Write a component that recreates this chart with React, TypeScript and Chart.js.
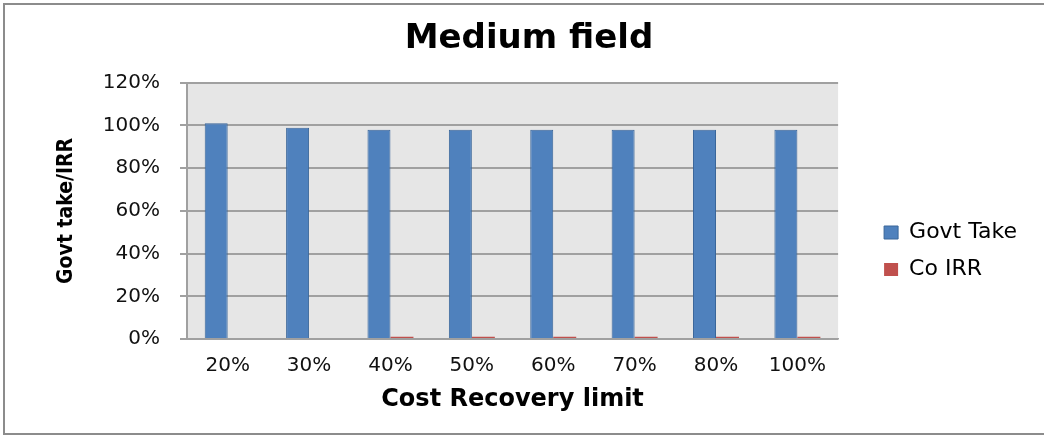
import React, { useEffect, useRef } from "react";
import { Chart, registerables } from "chart.js";

Chart.register(...registerables);

const categories = ["20%", "30%", "40%", "50%", "60%", "70%", "80%", "100%"];
const govtTake = [101, 99, 98, 98, 98, 98, 98, 98];
const coIRR = [0, 0, 1, 1, 1, 1, 1, 1];
const yTicks = [0, 20, 40, 60, 80, 100, 120];

const WIDE = "'DejaVu Sans', 'Open Sans', sans-serif";
const NARROW = "'DejaVu Sans Condensed', 'Liberation Sans Narrow', 'DejaVu Sans', sans-serif";

const bgPlugin = {
  id: "bgPlugin",
  beforeDraw(chart: any) {
    const { ctx, chartArea } = chart;
    ctx.save();
    ctx.fillStyle = "#ffffff";
    ctx.fillRect(0, 0, chart.width, chart.height);
    ctx.fillStyle = "#e6e6e6";
    ctx.fillRect(chartArea.left, chartArea.top, chartArea.right - chartArea.left, chartArea.bottom - chartArea.top);
    ctx.restore();
  },
  afterLayout(chart: any) {
    const lg = chart.legend;
    if (lg) {
      const dx = chart.chartArea.right + 31 - lg.left;
      lg.left += dx;
      lg.right += dx;
      lg.top += 44;
      lg.bottom += 44;
    }
    const tb = chart.titleBlock;
    if (tb) {
      tb.left += 4;
      tb.right += 4;
    }
  },
  afterDraw(chart: any) {
    const { ctx } = chart;
    ctx.save();
    ctx.strokeStyle = "#8c8c8c";
    ctx.lineWidth = 2;
    ctx.strokeRect(4, 4, chart.width + 10, chart.height - 6);
    ctx.restore();
  },
};

export default function App() {
  const ref = useRef<HTMLCanvasElement>(null);
  useEffect(() => {
    if (!ref.current) return;
    const chart = new Chart(ref.current, {
      type: "bar",
      data: {
        labels: categories,
        datasets: [
          {
            label: "Govt Take",
            data: govtTake,
            backgroundColor: "#4f81bd",
            borderColor: "#3a669a",
            borderWidth: 1,
          },
          {
            label: "Co IRR",
            data: coIRR,
            backgroundColor: "#c0504d",
            borderColor: "#b04541",
            borderWidth: 0,
          },
        ],
      },
      options: {
        animation: false,
        responsive: false,
        maintainAspectRatio: false,
        layout: { padding: { left: 54, right: 48, top: 0, bottom: 22 } },
        datasets: { bar: { categoryPercentage: 0.565, barPercentage: 1 } },
        plugins: {
          title: {
            display: true,
            text: "Medium field",
            color: "#000",
            font: { family: WIDE, size: 34, weight: "bold" },
            padding: { top: 19, bottom: 23 },
          },
          legend: {
            position: "right",
            labels: {
              boxWidth: 14,
              boxHeight: 13,
              padding: 15,
              color: "#000",
              font: { family: WIDE, size: 22 },
            },
          },
          tooltip: { enabled: false },
        },
        scales: {
          x: {
            afterFit: (scale: any) => {
              scale.height = 75;
            },
            grid: { display: false, drawTicks: false },
            border: { color: "#a0a0a0", width: 1.5 },
            ticks: { color: "#111", font: { family: WIDE, size: 20 }, padding: 15 },
            title: {
              display: true,
              text: "Cost Recovery limit",
              color: "#000",
              font: { family: WIDE, size: 24, weight: "bold" },
              padding: 0,
            },
          },
          y: {
            min: 0,
            max: 120,
            afterFit: (scale: any) => {
              scale.width = 133;
            },
            afterBuildTicks: (scale: any) => {
              scale.ticks = yTicks.map((v) => ({ value: v }));
            },
            grid: { color: "#a0a0a0", lineWidth: 2, tickLength: 7 },
            border: { color: "#a0a0a0", width: 2 },
            ticks: {
              color: "#111",
              font: { family: WIDE, size: 20 },
              padding: 20,
              callback: (v: any) => v + "%",
            },
            title: {
              display: true,
              text: "Govt take/IRR",
              color: "#000",
              font: { family: NARROW, size: 21, weight: "bold" },
              padding: 0,
            },
          },
        },
      },
      plugins: [bgPlugin],
    });
    return () => chart.destroy();
  }, []);
  return (
    <div style={{ position: "absolute", left: 0, top: 0, width: 1044, height: 436 }}>
      <canvas ref={ref} width={1044} height={436} style={{ display: "block" }} />
    </div>
  );
}
